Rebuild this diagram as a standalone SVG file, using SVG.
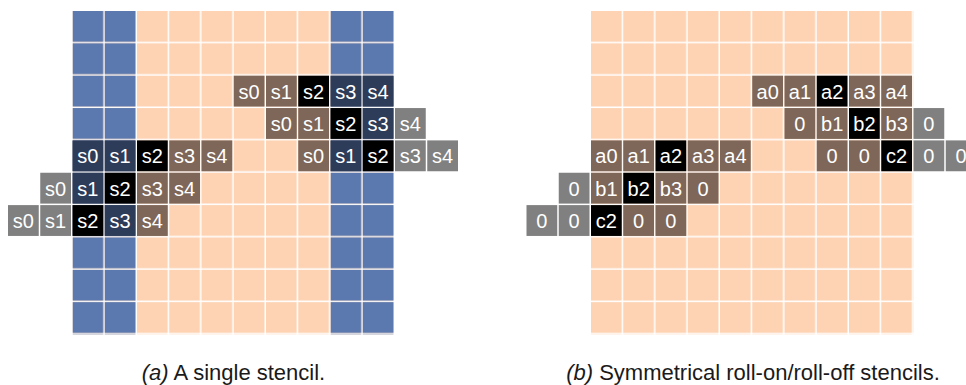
<svg xmlns="http://www.w3.org/2000/svg" width="966" height="385" viewBox="0 0 966 385">
  <defs>
    <!-- one grid cell, repeated: 32.25 x 32.35 pitch with a thin white gap -->
    <pattern id="gridPeach" patternUnits="userSpaceOnUse" x="0" y="0" width="32.25" height="32.35">
      <rect width="30.75" height="30.85" fill="#fdd3b4"/>
    </pattern>
    <pattern id="gridBlue" patternUnits="userSpaceOnUse" x="0" y="0" width="32.25" height="32.35">
      <rect width="30.75" height="30.85" fill="#5b79af"/>
    </pattern>
  </defs>
  <style>
    .cell rect { width: 30.75px; height: 30.85px; }
    .cell text { font-family: "Liberation Sans", Arial, sans-serif; font-size: 20px; fill: #ffffff; text-anchor: middle; }
    .br rect { fill: #7e6658; }
    .nv rect { fill: #2d3c59; }
    .bk rect { fill: #000000; }
    .gy rect { fill: #808080; }
    .caption { font-family: "Liberation Sans", Arial, sans-serif; font-size: 22px; fill: #1a1a1a; text-anchor: middle; }
  </style>

  <rect width="966" height="385" fill="#ffffff"/>

  <!-- (a) single stencil -->
  <g id="panel-a" transform="translate(72.5,11)">
    <g id="grid-a">
      <rect x="0" y="0" width="322.5" height="323.5" fill="url(#gridPeach)"/>
      <rect x="0" y="0" width="64.5" height="323.5" fill="url(#gridBlue)"/>
      <rect x="258" y="0" width="64.5" height="323.5" fill="url(#gridBlue)"/>
    </g>

    <g id="a-row2">
      <g class="cell br" transform="translate(161.25,64.7)"><rect/><text x="15.4" y="23">s0</text></g>
      <g class="cell br" transform="translate(193.5,64.7)"><rect/><text x="15.4" y="23">s1</text></g>
      <g class="cell bk" transform="translate(225.75,64.7)"><rect/><text x="15.4" y="23">s2</text></g>
      <g class="cell nv" transform="translate(258,64.7)"><rect/><text x="15.4" y="23">s3</text></g>
      <g class="cell nv" transform="translate(290.25,64.7)"><rect/><text x="15.4" y="23">s4</text></g>
    </g>
    <g id="a-row3">
      <g class="cell br" transform="translate(193.5,97.05)"><rect/><text x="15.4" y="23">s0</text></g>
      <g class="cell br" transform="translate(225.75,97.05)"><rect/><text x="15.4" y="23">s1</text></g>
      <g class="cell bk" transform="translate(258,97.05)"><rect/><text x="15.4" y="23">s2</text></g>
      <g class="cell nv" transform="translate(290.25,97.05)"><rect/><text x="15.4" y="23">s3</text></g>
      <g class="cell gy" transform="translate(322.5,97.05)"><rect/><text x="15.4" y="23">s4</text></g>
    </g>
    <g id="a-row4-right">
      <g class="cell br" transform="translate(225.75,129.4)"><rect/><text x="15.4" y="23">s0</text></g>
      <g class="cell nv" transform="translate(258,129.4)"><rect/><text x="15.4" y="23">s1</text></g>
      <g class="cell bk" transform="translate(290.25,129.4)"><rect/><text x="15.4" y="23">s2</text></g>
      <g class="cell gy" transform="translate(322.5,129.4)"><rect/><text x="15.4" y="23">s3</text></g>
      <g class="cell gy" transform="translate(354.75,129.4)"><rect/><text x="15.4" y="23">s4</text></g>
    </g>
    <g id="a-row4-left">
      <g class="cell nv" transform="translate(0,129.4)"><rect/><text x="15.4" y="23">s0</text></g>
      <g class="cell nv" transform="translate(32.25,129.4)"><rect/><text x="15.4" y="23">s1</text></g>
      <g class="cell bk" transform="translate(64.5,129.4)"><rect/><text x="15.4" y="23">s2</text></g>
      <g class="cell br" transform="translate(96.75,129.4)"><rect/><text x="15.4" y="23">s3</text></g>
      <g class="cell br" transform="translate(129,129.4)"><rect/><text x="15.4" y="23">s4</text></g>
    </g>
    <g id="a-row5">
      <g class="cell gy" transform="translate(-32.25,161.75)"><rect/><text x="15.4" y="23">s0</text></g>
      <g class="cell nv" transform="translate(0,161.75)"><rect/><text x="15.4" y="23">s1</text></g>
      <g class="cell bk" transform="translate(32.25,161.75)"><rect/><text x="15.4" y="23">s2</text></g>
      <g class="cell br" transform="translate(64.5,161.75)"><rect/><text x="15.4" y="23">s3</text></g>
      <g class="cell br" transform="translate(96.75,161.75)"><rect/><text x="15.4" y="23">s4</text></g>
    </g>
    <g id="a-row6">
      <g class="cell gy" transform="translate(-64.5,194.1)"><rect/><text x="15.4" y="23">s0</text></g>
      <g class="cell gy" transform="translate(-32.25,194.1)"><rect/><text x="15.4" y="23">s1</text></g>
      <g class="cell bk" transform="translate(0,194.1)"><rect/><text x="15.4" y="23">s2</text></g>
      <g class="cell nv" transform="translate(32.25,194.1)"><rect/><text x="15.4" y="23">s3</text></g>
      <g class="cell br" transform="translate(64.5,194.1)"><rect/><text x="15.4" y="23">s4</text></g>
    </g>
  </g>

  <!-- (b) roll-on / roll-off stencils -->
  <g id="panel-b" transform="translate(591,11)">
    <g id="grid-b">
      <rect x="0" y="0" width="322.5" height="323.5" fill="url(#gridPeach)"/>
    </g>

    <g id="b-row2">
      <g class="cell br" transform="translate(161.25,64.7)"><rect/><text x="15.4" y="23">a0</text></g>
      <g class="cell br" transform="translate(193.5,64.7)"><rect/><text x="15.4" y="23">a1</text></g>
      <g class="cell bk" transform="translate(225.75,64.7)"><rect/><text x="15.4" y="23">a2</text></g>
      <g class="cell br" transform="translate(258,64.7)"><rect/><text x="15.4" y="23">a3</text></g>
      <g class="cell br" transform="translate(290.25,64.7)"><rect/><text x="15.4" y="23">a4</text></g>
    </g>
    <g id="b-row3">
      <g class="cell br" transform="translate(193.5,97.05)"><rect/><text x="15.4" y="23">0</text></g>
      <g class="cell br" transform="translate(225.75,97.05)"><rect/><text x="15.4" y="23">b1</text></g>
      <g class="cell bk" transform="translate(258,97.05)"><rect/><text x="15.4" y="23">b2</text></g>
      <g class="cell br" transform="translate(290.25,97.05)"><rect/><text x="15.4" y="23">b3</text></g>
      <g class="cell gy" transform="translate(322.5,97.05)"><rect/><text x="15.4" y="23">0</text></g>
    </g>
    <g id="b-row4-right">
      <g class="cell br" transform="translate(225.75,129.4)"><rect/><text x="15.4" y="23">0</text></g>
      <g class="cell br" transform="translate(258,129.4)"><rect/><text x="15.4" y="23">0</text></g>
      <g class="cell bk" transform="translate(290.25,129.4)"><rect/><text x="15.4" y="23">c2</text></g>
      <g class="cell gy" transform="translate(322.5,129.4)"><rect/><text x="15.4" y="23">0</text></g>
      <g class="cell gy" transform="translate(354.75,129.4)"><rect/><text x="15.4" y="23">0</text></g>
    </g>
    <g id="b-row4-left">
      <g class="cell br" transform="translate(0,129.4)"><rect/><text x="15.4" y="23">a0</text></g>
      <g class="cell br" transform="translate(32.25,129.4)"><rect/><text x="15.4" y="23">a1</text></g>
      <g class="cell bk" transform="translate(64.5,129.4)"><rect/><text x="15.4" y="23">a2</text></g>
      <g class="cell br" transform="translate(96.75,129.4)"><rect/><text x="15.4" y="23">a3</text></g>
      <g class="cell br" transform="translate(129,129.4)"><rect/><text x="15.4" y="23">a4</text></g>
    </g>
    <g id="b-row5">
      <g class="cell gy" transform="translate(-32.25,161.75)"><rect/><text x="15.4" y="23">0</text></g>
      <g class="cell br" transform="translate(0,161.75)"><rect/><text x="15.4" y="23">b1</text></g>
      <g class="cell bk" transform="translate(32.25,161.75)"><rect/><text x="15.4" y="23">b2</text></g>
      <g class="cell br" transform="translate(64.5,161.75)"><rect/><text x="15.4" y="23">b3</text></g>
      <g class="cell br" transform="translate(96.75,161.75)"><rect/><text x="15.4" y="23">0</text></g>
    </g>
    <g id="b-row6">
      <g class="cell gy" transform="translate(-64.5,194.1)"><rect/><text x="15.4" y="23">0</text></g>
      <g class="cell gy" transform="translate(-32.25,194.1)"><rect/><text x="15.4" y="23">0</text></g>
      <g class="cell bk" transform="translate(0,194.1)"><rect/><text x="15.4" y="23">c2</text></g>
      <g class="cell br" transform="translate(32.25,194.1)"><rect/><text x="15.4" y="23">0</text></g>
      <g class="cell br" transform="translate(64.5,194.1)"><rect/><text x="15.4" y="23">0</text></g>
    </g>
  </g>

  <g id="captions">
    <text class="caption" x="233.5" y="380"><tspan font-style="italic">(a)</tspan> A single stencil.</text>
    <text class="caption" x="753" y="380"><tspan font-style="italic">(b)</tspan> Symmetrical roll-on/roll-off stencils.</text>
  </g>
</svg>
